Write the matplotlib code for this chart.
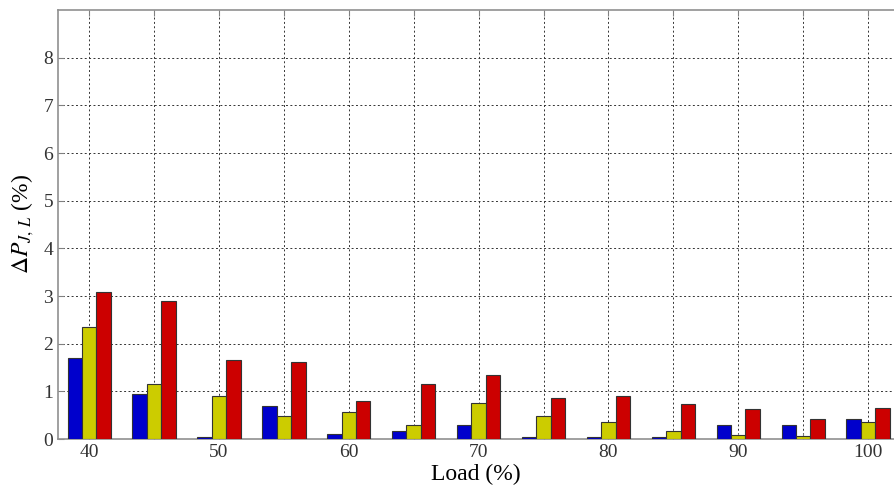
import numpy as np
import matplotlib
matplotlib.use('Agg')
import matplotlib.pyplot as plt

loads = [40, 45, 50, 55, 60, 65, 70, 75, 80, 85, 90, 95, 100]
blue_vals = [1.69, 0.95, 0.035, 0.69, 0.10, 0.17, 0.29, 0.05, 0.05, 0.05, 0.29, 0.29, 0.42]
yellow_vals = [2.36, 1.16, 0.91, 0.48, 0.56, 0.30, 0.755, 0.48, 0.36, 0.17, 0.08, 0.06, 0.36]
red_vals = [3.09, 2.89, 1.66, 1.62, 0.79, 1.16, 1.35, 0.87, 0.895, 0.74, 0.62, 0.42, 0.65]
tick_labels = ['40', '', '50', '', '60', '', '70', '', '80', '', '90', '', '100']

plt.rcParams['font.family'] = ['Liberation Serif', 'DejaVu Serif']
plt.rcParams['mathtext.fontset'] = 'stix'

fig = plt.figure(figsize=(8.94, 4.91), dpi=100)
ax = fig.add_axes([0.0649, 0.1059, 0.9351, 0.8737])

x = np.array(loads, dtype=float)
w = 1.11
ax.bar(x - w, blue_vals, w, color='#0000cc', edgecolor='#333333', linewidth=0.8, zorder=3)
ax.bar(x, yellow_vals, w, color='#cccc00', edgecolor='#333333', linewidth=0.8, zorder=3)
ax.bar(x + w, red_vals, w, color='#cc0000', edgecolor='#333333', linewidth=0.8, zorder=3)

ax.set_xlim(37.6, 102.0)
ax.set_ylim(0, 9)
ax.set_xticks(loads)
ax.set_xticklabels(tick_labels)
ax.set_yticks(range(0, 9))

ax.grid(True, color='#333333', linestyle=(0, (2, 2.5)), linewidth=0.7, zorder=0)
ax.tick_params(direction='in', length=4, top=True, right=False, labelsize=14,
               labelcolor='#333333', color='#808080')
for s in ax.spines.values():
    s.set_color('#909090')
    s.set_linewidth(1.2)
ax.spines['right'].set_visible(False)

ax.set_xlabel('Load (%)', fontsize=17, labelpad=2)
ax.set_ylabel(r'$\Delta P_{J,\,L}$ (%)', fontsize=17, labelpad=5)

fig.savefig('out.png', dpi=100)
